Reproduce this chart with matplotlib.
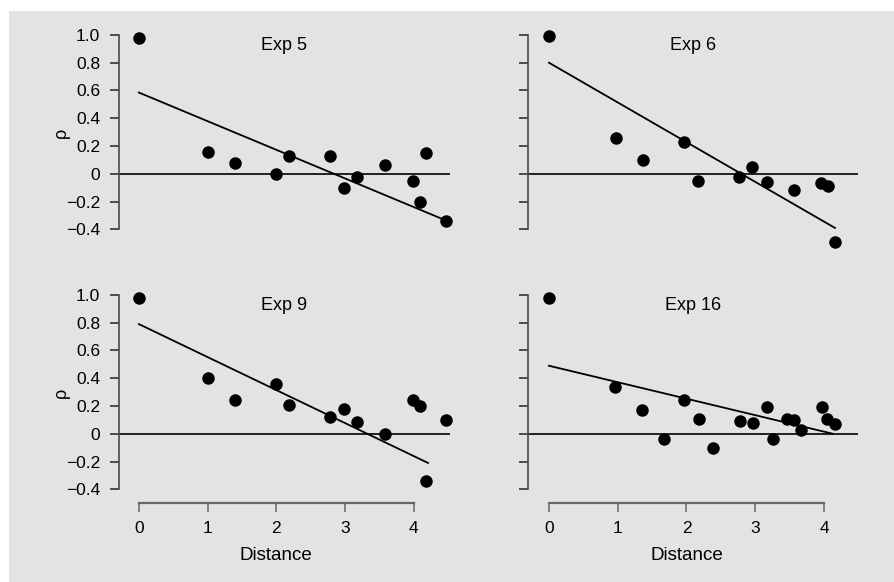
import matplotlib
matplotlib.use("Agg")
import matplotlib.pyplot as plt
from matplotlib.patches import Rectangle
import matplotlib.transforms as mtransforms

plt.rcParams['font.family'] = ['Liberation Sans', 'DejaVu Sans']

# ---- data ----
titles = ["Exp 5", "Exp 6", "Exp 9", "Exp 16"]

dist_5_9 = [0.0, 1.0, 1.40, 2.0, 2.19, 2.78, 2.99, 3.18, 3.59, 3.99, 4.10, 4.18, 4.47]
rho_exp5 = [0.98, 0.16, 0.08, 0.00, 0.13, 0.13, -0.10, -0.02, 0.06, -0.05, -0.20, 0.15, -0.34]
rho_exp9 = [0.98, 0.40, 0.24, 0.36, 0.21, 0.12, 0.18, 0.085, 0.0, 0.24, 0.20, -0.34, 0.10]

dist_6 = [0.0, 0.97, 1.37, 1.96, 2.17, 2.76, 2.96, 3.17, 3.56, 3.96, 4.06, 4.16]
rho_exp6 = [0.99, 0.26, 0.10, 0.23, -0.05, -0.02, 0.05, -0.06, -0.12, -0.07, -0.085, -0.49]

dist_16 = [0.0, 0.96, 1.35, 1.68, 1.96, 2.18, 2.38, 2.78, 2.97, 3.17, 3.26, 3.46,
           3.57, 3.66, 3.97, 4.05, 4.16]
rho_exp16 = [0.98, 0.34, 0.17, -0.04, 0.24, 0.11, -0.105, 0.095, 0.075, 0.195, -0.035,
             0.105, 0.10, 0.025, 0.195, 0.105, 0.07]

fit_x_exp5, fit_y_exp5 = [0.0, 4.44], [0.585, -0.33]
fit_x_exp6, fit_y_exp6 = [0.0, 4.16], [0.80, -0.39]
fit_x_exp9, fit_y_exp9 = [0.0, 4.21], [0.79, -0.21]
fit_x_exp16, fit_y_exp16 = [0.0, 4.13], [0.49, 0.0]

y_ticks = [-0.4, -0.2, 0.0, 0.2, 0.4, 0.6, 0.8, 1.0]
y_tick_labels = ["\u22120.4", "\u22120.2", "0", "0.2", "0.4", "0.6", "0.8", "1.0"]
x_ticks = [0, 1, 2, 3, 4]
x_tick_labels = ["0", "1", "2", "3", "4"]

panels = [
    (dist_5_9, rho_exp5, fit_x_exp5, fit_y_exp5),
    (dist_6, rho_exp6, fit_x_exp6, fit_y_exp6),
    (dist_5_9, rho_exp9, fit_x_exp9, fit_y_exp9),
    (dist_16, rho_exp16, fit_x_exp16, fit_y_exp16),
]

# ---- layout ----
W, H = 895, 582
fig = plt.figure(figsize=(W / 100, H / 100), dpi=100)
fig.patch.set_facecolor("white")
fig.patches.append(Rectangle((9 / W, 0), 1 - 9 / W, (H - 11) / H,
                             transform=fig.transFigure, facecolor="#e3e3e3",
                             edgecolor="none", zorder=-10))

col_px = [(119, 450), (528, 858)]
row_px = [(28, 243.2), (288, 503.2)]
xlims = [(-0.29, 4.53), (-0.305, 4.495)]

spine_col = "#4a4a4a"
xaxis_col = "#666666"

for i, (xs, ys, fx, fy) in enumerate(panels):
    r, c = divmod(i, 2)
    x0, x1 = col_px[c]
    top, bot = row_px[r]
    ax = fig.add_axes([x0 / W, 1 - bot / H, (x1 - x0) / W, (bot - top) / H])
    ax.set_facecolor("none")
    ax.set_xlim(*xlims[c])
    ax.set_ylim(-0.5, 1.05)

    ax.axhline(0, color="black", lw=1.2, zorder=1)
    ax.plot(fx, fy, color="black", lw=1.3, zorder=2)
    ax.plot(xs, ys, 'o', color="black", markersize=9, markeredgewidth=0, zorder=3,
            clip_on=False)

    for s in ["top", "right"]:
        ax.spines[s].set_visible(False)
    ax.spines["left"].set_bounds(-0.4, 1.0)
    ax.spines["left"].set_color(spine_col)
    ax.spines["left"].set_linewidth(1.2)
    ax.set_yticks(y_ticks)
    ax.tick_params(axis="y", direction="out", length=6.5, width=1.1, color="#222222",
                   pad=7, labelsize=12.5)
    if c == 0:
        ax.set_yticklabels(y_tick_labels)
        ax.text(-0.174, 0.512, "\u03c1", transform=ax.transAxes, rotation=90,
                ha="center", va="center", fontsize=13)
    else:
        ax.set_yticklabels([])

    if r == 1:
        ax.spines["bottom"].set_bounds(0, 4)
        ax.spines["bottom"].set_color(xaxis_col)
        ax.spines["bottom"].set_linewidth(1.6)
        ax.set_xticks(x_ticks)
        ax.set_xticklabels(x_tick_labels)
        ax.tick_params(axis="x", direction="out", length=6.5, width=1.1, color=xaxis_col,
                       pad=6.5, labelsize=12.5)
        trans = mtransforms.blended_transform_factory(ax.transData, ax.transAxes)
        ax.text(2.0, -0.241, "Distance", transform=trans, ha="center", va="center",
                fontsize=13.5)
    else:
        ax.spines["bottom"].set_visible(False)
        ax.set_xticks([])

    ax.text(0.5, 0.918, titles[i], transform=ax.transAxes, ha="center", va="center",
            fontsize=13)

fig.savefig("out.png", dpi=100, facecolor=fig.get_facecolor())
